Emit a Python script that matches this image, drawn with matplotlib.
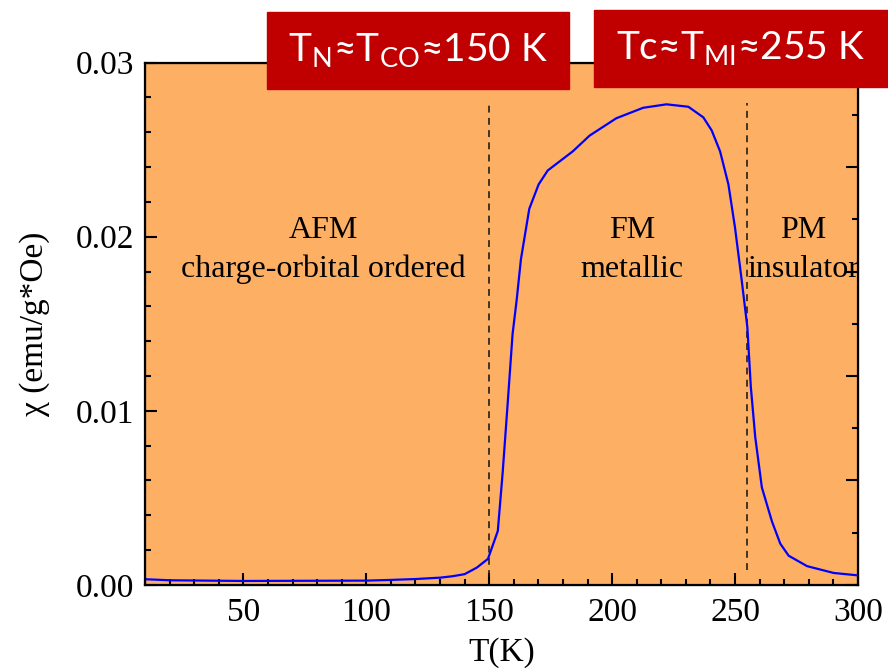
import numpy as np
import matplotlib as mpl

mpl.use("Agg")
import matplotlib.pyplot as plt  # noqa
from matplotlib.patches import Rectangle  # noqa
from matplotlib.ticker import MultipleLocator  # noqa

# susceptibility vs temperature
T = [10, 20, 50, 100, 110, 120, 130, 135, 140, 145, 149.5, 153.5, 155.5,
     157.5, 159.5, 161.2, 162.9, 166.3, 170.1, 173.8, 184, 190.8, 201.7,
     212.6, 222.1, 231, 237.1, 240.5, 243.9, 247.3, 250, 252.7, 255, 256.4,
     258.2, 260.9, 265, 268.4, 271.8, 279.3, 290.1, 300]
chi = [0.00033, 0.00027, 0.00023, 0.00025, 0.00029, 0.00034, 0.00042,
       0.0005, 0.00062, 0.0010, 0.0015, 0.0031, 0.0065, 0.0104, 0.0144,
       0.0164, 0.0187, 0.0216, 0.0230, 0.0238, 0.0249, 0.0258, 0.0268,
       0.0274, 0.0276, 0.02746, 0.02685, 0.0261, 0.0249, 0.0230, 0.0205,
       0.0175, 0.0148, 0.0114, 0.0085, 0.0056, 0.00365, 0.00237, 0.00168,
       0.00108, 0.00069, 0.00055]

T_transitions = [150, 255]
dash_bottom = [0.00046, 0.00086]
dash_top = 0.0277

phases = [(82.4, 'AFM', 'charge-orbital ordered'),
          (208, 'FM', 'metallic'),
          (277.6, 'PM', 'insulator')]

boxes = [r'T$_\mathregular{N}$≈T$_\mathregular{CO}$≈150 K',
         r'Tc≈T$_\mathregular{MI}$≈255 K']

plt.rcParams['font.family'] = 'Liberation Serif'
plt.rcParams['mathtext.fontset'] = 'custom'
plt.rcParams['mathtext.rm'] = 'Lato'

fig = plt.figure(figsize=(8.88, 6.68), dpi=100)
ax = fig.add_axes([0.1633, 0.1243, 0.8029, 0.7821])
ax.set_facecolor('#FDB064')

ax.plot(T, chi, '-', color='#0000FF', lw=1.6, zorder=3)
for t, yb in zip(T_transitions, dash_bottom):
    ax.plot([t, t], [yb, dash_top], '--', color='#111111', lw=1.1,
            dashes=(4.5, 3.5))

ax.set_xlim(10, 300)
ax.set_ylim(0, 0.03)
ax.xaxis.set_major_locator(MultipleLocator(50))
ax.xaxis.set_minor_locator(MultipleLocator(10))
ax.yaxis.set_major_locator(MultipleLocator(0.01))
ax.yaxis.set_minor_locator(MultipleLocator(0.002))
ax.yaxis.set_major_formatter(mpl.ticker.FormatStrFormatter('%.2f'))
ax.tick_params(which='both', direction='in', width=1.5, labelsize=24,
               top=False, right=False)
ax.tick_params(which='major', length=8.5)
ax.tick_params(which='minor', length=4.3)
ax.tick_params(axis='x', pad=9)
ax.tick_params(axis='y', pad=8)
for s in ax.spines.values():
    s.set_linewidth(1.6)

ax2 = ax.twinx()
ax2.set_ylim(0, 10)
ax2.yaxis.set_major_locator(MultipleLocator(2))
ax2.yaxis.set_minor_locator(MultipleLocator(1))
ax2.tick_params(which='both', direction='in', width=1.5, labelright=False)
ax2.tick_params(which='major', length=8.5)
ax2.tick_params(which='minor', length=4.3)

ax.set_xlabel('T(K)', fontsize=24, labelpad=7)
ax.set_ylabel(u'\u03c7 (emu/g*Oe)', fontsize=24, labelpad=18)

for x, top, bottom in phases:
    ax.text(x, 0.01992, top, ha='center', va='baseline', fontsize=23)
    ax.text(x, 0.01768, bottom, ha='center', va='baseline', fontsize=23)

# red title boxes (figure pixel coordinates)
box_px = [(267, 12, 302, 77), (594, 10, 294, 77)]
for (x0, y0, w, h), label in zip(box_px, boxes):
    fig.add_artist(Rectangle((x0 / 888, 1 - (y0 + h) / 668), w / 888,
                             h / 668, transform=fig.transFigure,
                             color='#C00000', zorder=10))
    fig.text((x0 + w / 2) / 888, 1 - (y0 + h / 2) / 668, label,
             family='Lato', color='white', fontsize=28, ha='center',
             va='center', zorder=11)

fig.savefig('out.png', dpi=100)
